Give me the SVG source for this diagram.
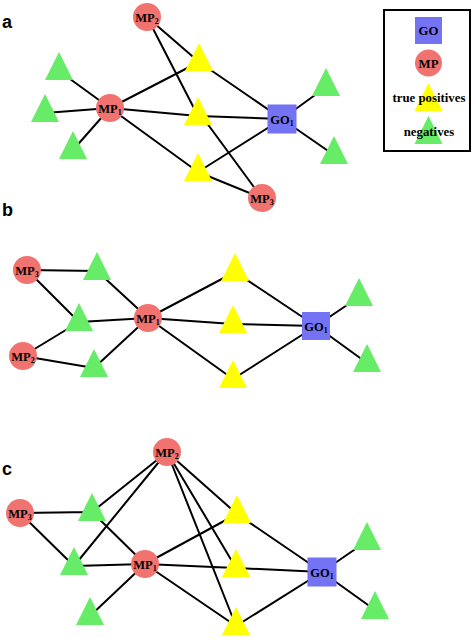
<svg xmlns="http://www.w3.org/2000/svg" xmlns:xlink="http://www.w3.org/1999/xlink" width="472" height="638" viewBox="0 0 472 638">
<style>
.e{stroke:#000;stroke-width:2;fill:none}
.mp{fill:#F07370}
.go{fill:#7373F3}
.tp{fill:#FFFF00}
.ng{fill:#66EC66}
.lb{font-family:"Liberation Serif","Times New Roman",serif;font-weight:bold;font-size:12.5px;fill:#000;text-anchor:middle}
.sub{font-size:8px}
.pl{font-family:"Liberation Sans",Arial,sans-serif;font-weight:bold;font-size:18px;fill:#000}
.lg{font-family:"Liberation Serif","Times New Roman",serif;font-weight:bold;font-size:12.8px;fill:#000;text-anchor:middle}
</style>
<defs>
<path id="tri" d="M0,0 L14,28 L-14,28 Z"/>
</defs>
<rect width="472" height="638" fill="#fff"/>
<text class="pl" x="2" y="28">a</text>
<text class="pl" x="2" y="216">b</text>
<text class="pl" x="2" y="475">c</text>

<g id="connectors">
<!-- panel a -->
<path class="e" d="M147,17 L199,62 M147,17 L198,116 M110,108 L59,71 M110,108 L45,113 M110,108 L73,150 M110,108 L199,62 M110,108 L198,116 M110,108 L198,172 M199,62 L282,119 M198,116 L282,119 M198,172 L282,119 M201,115 L262,198 M198,172 L262,198 M282,119 L326,87 M282,119 L334,155"/>
<!-- panel b -->
<path class="e" d="M27,270 L97,271 M27,270 L79,322 M23,356 L79,322 M23,356 L94,368 M97,271 L148,318 M79,322 L148,318 M94,368 L148,318 M148,318 L235,272 M148,318 L233,324 M148,318 L233,379 M235,272 L316,326 M233,324 L316,326 M233,379 L316,326 M316,326 L359,297 M316,326 L367,363"/>
<!-- panel c -->
<path class="e" d="M167,452 L92,512 M167,452 L74,566 M167,452 L237,514 M167,452 L236,568 M167,452 L236,626 M20,513 L92,512 M20,513 L74,566 M92,512 L145,564 M74,566 L145,564 M90,616 L145,564 M145,564 L237,514 M145,564 L236,568 M145,564 L236,626 M237,514 L322,572 M236,568 L322,572 M236,626 L322,572 M322,572 L367,541 M322,572 L375,610"/>
</g>

<!-- panel a nodes -->
<g id="a-MP2"><circle class="mp" cx="147" cy="17" r="14"/><text class="lb" x="147" y="21.5">MP<tspan class="sub" dy="2">2</tspan></text></g>
<g id="a-MP1"><circle class="mp" cx="110" cy="108" r="14"/><text class="lb" x="110" y="112.5">MP<tspan class="sub" dy="2">1</tspan></text></g>
<g id="a-MP3"><circle class="mp" cx="262" cy="198" r="14"/><text class="lb" x="262" y="202.5">MP<tspan class="sub" dy="2">3</tspan></text></g>
<g id="a-GO1"><rect class="go" x="267.5" y="104.5" width="29" height="29"/><text class="lb" x="282" y="123.5">GO<tspan class="sub" dy="2">1</tspan></text></g>
<g id="a-T1"><use href="#tri" class="tp" x="199" y="43"/></g>
<g id="a-T2"><use href="#tri" class="tp" x="198" y="97"/></g>
<g id="a-T3"><use href="#tri" class="tp" x="198" y="153"/></g>
<g id="a-N1"><use href="#tri" class="ng" x="59" y="52"/></g>
<g id="a-N2"><use href="#tri" class="ng" x="45" y="94"/></g>
<g id="a-N3"><use href="#tri" class="ng" x="73" y="131"/></g>
<g id="a-N4"><use href="#tri" class="ng" x="326" y="68"/></g>
<g id="a-N5"><use href="#tri" class="ng" x="334" y="136"/></g>

<!-- legend -->
<g id="legend">
<rect x="384" y="10" width="86" height="141" fill="#fff" stroke="#000" stroke-width="2"/>
<rect class="go" x="415" y="17" width="27" height="27"/>
<text class="lg" x="428.5" y="35">GO</text>
<circle class="mp" cx="428.5" cy="63" r="13.5"/>
<text class="lg" x="428.5" y="68">MP</text>
<use href="#tri" class="tp" x="428.5" y="83"/>
<text class="lg" x="429" y="102">true positives</text>
<use href="#tri" class="ng" x="428.5" y="116"/>
<text class="lg" x="429" y="136">negatives</text>
</g>

<!-- panel b nodes -->
<g id="b-MP3"><circle class="mp" cx="27" cy="270" r="14"/><text class="lb" x="27" y="274.5">MP<tspan class="sub" dy="2">3</tspan></text></g>
<g id="b-MP2"><circle class="mp" cx="23" cy="356" r="14"/><text class="lb" x="23" y="360.5">MP<tspan class="sub" dy="2">2</tspan></text></g>
<g id="b-MP1"><circle class="mp" cx="148" cy="318" r="14"/><text class="lb" x="148" y="322.5">MP<tspan class="sub" dy="2">1</tspan></text></g>
<g id="b-GO1"><rect class="go" x="302" y="312" width="28" height="28"/><text class="lb" x="316" y="330.5">GO<tspan class="sub" dy="2">1</tspan></text></g>
<g id="b-N1"><use href="#tri" class="ng" x="97" y="252"/></g>
<g id="b-N2"><use href="#tri" class="ng" x="79" y="303"/></g>
<g id="b-N3"><use href="#tri" class="ng" x="94" y="349"/></g>
<g id="b-N4"><use href="#tri" class="ng" x="359" y="278"/></g>
<g id="b-N5"><use href="#tri" class="ng" x="367" y="344"/></g>
<g id="b-T1"><use href="#tri" class="tp" x="235" y="253"/></g>
<g id="b-T2"><use href="#tri" class="tp" x="233" y="305"/></g>
<g id="b-T3"><use href="#tri" class="tp" x="233" y="360"/></g>

<!-- panel c nodes -->
<g id="c-MP2"><circle class="mp" cx="167" cy="452" r="14"/><text class="lb" x="167" y="456.5">MP<tspan class="sub" dy="2">2</tspan></text></g>
<g id="c-MP3"><circle class="mp" cx="20" cy="513" r="14"/><text class="lb" x="20" y="517.5">MP<tspan class="sub" dy="2">3</tspan></text></g>
<g id="c-MP1"><circle class="mp" cx="145" cy="564" r="14"/><text class="lb" x="145" y="568.5">MP<tspan class="sub" dy="2">1</tspan></text></g>
<g id="c-GO1"><rect class="go" x="307.5" y="557.5" width="29" height="29"/><text class="lb" x="322" y="576.5">GO<tspan class="sub" dy="2">1</tspan></text></g>
<g id="c-N1"><use href="#tri" class="ng" x="92" y="493"/></g>
<g id="c-N2"><use href="#tri" class="ng" x="74" y="547"/></g>
<g id="c-N3"><use href="#tri" class="ng" x="90" y="597"/></g>
<g id="c-N4"><use href="#tri" class="ng" x="367" y="522"/></g>
<g id="c-N5"><use href="#tri" class="ng" x="375" y="591"/></g>
<g id="c-T1"><use href="#tri" class="tp" x="237" y="495"/></g>
<g id="c-T2"><use href="#tri" class="tp" x="236" y="549"/></g>
<g id="c-T3"><use href="#tri" class="tp" x="236" y="607"/></g>
</svg>
